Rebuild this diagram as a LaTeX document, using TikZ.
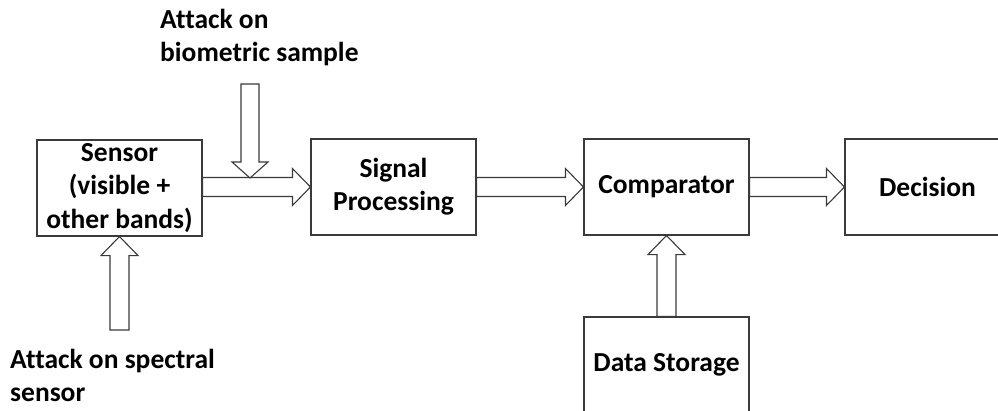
\documentclass[tikz,border=0pt]{standalone}
\usepackage{fontspec}
\setmainfont{Carlito}[Ligatures=NoCommon]
\usetikzlibrary{calc}
\definecolor{lc}{HTML}{3A3A3A}
\tikzset{
  txt/.style={font=\bfseries\fontsize{27.5}{33.3}\selectfont, text=black},
  box/.style={txt, draw=lc, line width=1.1pt, minimum width=165pt, minimum height=96pt, inner sep=0pt, align=center},
  lbl/.style={txt, inner sep=0pt, align=left, anchor=north west},
  blk/.style={draw=lc, fill=white, line width=1.1pt, line join=miter},
}
\newcommand{\blockarrowH}[2]{%
  \draw[blk] let \p1=(#1), \p2=(#2) in
    (\x1,\y2+9.5pt) -- (\x2-18pt,\y2+9.5pt) -- (\x2-18pt,\y2+18.5pt) -- (\x2,\y2)
    -- (\x2-18pt,\y2-18.5pt) -- (\x2-18pt,\y2-9.5pt) -- (\x1,\y2-9.5pt) -- cycle;}
\newcommand{\blockarrowUp}[2]{%
  \draw[blk] let \p1=(#1), \p2=(#2) in
    (\x2-9.5pt,\y1) -- (\x2-9.5pt,\y2-19pt) -- (\x2-18.5pt,\y2-19pt) -- (\x2,\y2)
    -- (\x2+18.5pt,\y2-19pt) -- (\x2+9.5pt,\y2-19pt) -- (\x2+9.5pt,\y1) -- cycle;}
\newcommand{\blockarrowDown}[2]{%
  \draw[blk] let \p1=(#1), \p2=(#2) in
    (\x2-9pt,\y1) -- (\x2-9pt,\y2+16pt) -- (\x2-18pt,\y2+16pt) -- (\x2,\y2)
    -- (\x2+18pt,\y2+16pt) -- (\x2+9pt,\y2+16pt) -- (\x2+9pt,\y1) -- cycle;}
\begin{document}
\begin{tikzpicture}[x=1pt, y=-1pt]
  \clip (0,0) rectangle (998,410);
  \fill[white] (0,0) rectangle (998,410);
  % boxes
  \node[box] (sens) at (119.5,188) {Sensor\\(visible +\\other bands)};
  \node[box] (sp)   at (393.5,187) {Signal\\Processing};
  \node[box] (comp) at (666.5,187) {Comparator};
  \node[box] (dec)  at (927.5,187) {Decision};
  \node[box] (ds)   at (666.5,365) {Data Storage};
  % labels
  \node[lbl] (lab1) at (160,9) {Attack on\\biometric sample};
  \node[lbl] (lab2) at (10,349) {Attack on spectral\\sensor};
  % free ends
  \coordinate (a1top) at (250,84);
  \coordinate (a1tip) at (250,178);
  \coordinate (a2bot) at (119.5,330);
  % horizontal block arrows
  \blockarrowH{sens.east}{sp.west}
  \blockarrowH{sp.east}{comp.west}
  \blockarrowH{comp.east}{dec.west}
  % vertical block arrows
  \blockarrowDown{a1top}{a1tip}
  \blockarrowUp{a2bot}{sens.south}
  \blockarrowUp{ds.north}{comp.south}
\end{tikzpicture}
\end{document}
